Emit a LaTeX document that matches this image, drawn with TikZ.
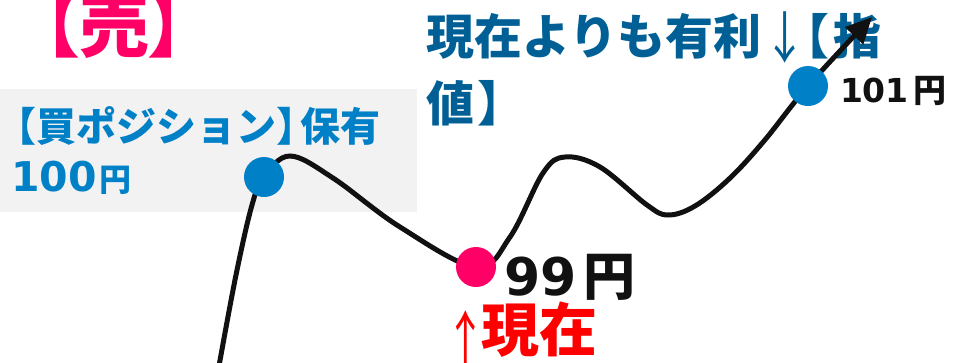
\documentclass[tikz,border=0pt]{standalone}
\usepackage{graphicx}
\usepackage{fontspec}
\newfontfamily\jp{Noto Sans CJK JP}
\newfontfamily\jpp{Noto Sans CJK JP}[RawFeature=+palt]
\newfontfamily\dv{DejaVu Sans}
\usetikzlibrary{arrows.meta}
\definecolor{uripink}{HTML}{FF0066}
\definecolor{posblue}{HTML}{0080C6}
\definecolor{darkblue}{HTML}{006096}
\definecolor{nowred}{HTML}{FF0000}
\definecolor{boxgray}{HTML}{F2F2F2}
\definecolor{ink}{HTML}{111111}
\tikzset{
  txt/.style={inner sep=0pt, outer sep=0pt},
  dot/.style={circle, minimum size=40pt, inner sep=0pt, draw=none},
  curve/.style={draw=ink, line width=5pt, -{Triangle[length=26pt,width=24pt]}},
}
\begin{document}
\begin{tikzpicture}[x=1pt,y=-1pt]
\useasboundingbox (0,0) rectangle (959,362);
% background box
\node[txt, fill=boxgray, minimum width=417pt, minimum height=123pt, anchor=north west] (box) at (0,89) {};
% texts
\node[txt, anchor=base west, text=uripink, font=\fontsize{70}{70}\selectfont\bfseries] (uri) at (44,51) {\jpp 【売】};
\node[txt, anchor=north west, align=left, text=posblue, font=\fontsize{40}{50}\selectfont\bfseries] (pos) at (15,101) {\rule{0pt}{40pt}{\jpp 【}\kern2pt{\jp 買ポジション}{\jpp 】}\kern4pt{\jp 保有}\\\kern-4pt{\dv\fontsize{41}{50}\selectfont 100}\kern3pt{\jp\fontsize{32}{50}\selectfont 円}};
\node[txt, anchor=north west, align=left, text=darkblue, font=\fontsize{48}{67}\selectfont\bfseries] (limit) at (426,6) {\rule{0pt}{48pt}{\jp 現在よりも有利}\kern2.4pt\smash{\raisebox{-4.7pt}{\scalebox{0.9}[1.16]{\jp\mdseries ↓}}}\kern-2.6pt{\jpp 【}\kern5pt{\jp 指}\\{\jp 値}\kern4pt{\jp 】}};
\node[txt, anchor=base west, text=ink, font=\fontsize{33}{33}\selectfont\bfseries] (p101) at (840,102) {{\dv 101}\kern5pt{\jp 円}};
\node[txt, anchor=base west, text=ink, font=\fontsize{52}{52}\selectfont\bfseries] (p99) at (504,295) {{\dv 99}\kern7pt{\jp 円}};
\node[txt, anchor=base west, text=nowred, font=\fontsize{58}{58}\selectfont\bfseries] (now) at (445,351) {\smash{\raisebox{-13pt}{\scalebox{0.7}[1.1]{\jp\mdseries ↑}}}\kern-3.7pt{\jp 現在}};
% curve
\coordinate (c1) at (264,177);
\coordinate (c2) at (476,267);
\coordinate (c3) at (808,86);
\coordinate (tip) at (872,17);
\draw[curve] plot[smooth, tension=0.6] coordinates {(219,366) (236,275) (252,205) (c1) (290,156) (333,178) (400,227) (c2) (510,237) (543,173) (565,157) (600,167) (647,205) (668,215) (695,206) (729,179) (764,141) (c3) (tip)};
% dots
\node[dot, fill=posblue] (buy) at (c1) {};
\node[dot, fill=uripink] (cur) at (c2) {};
\node[dot, fill=posblue] (tgt) at (c3) {};
\end{tikzpicture}
\end{document}
